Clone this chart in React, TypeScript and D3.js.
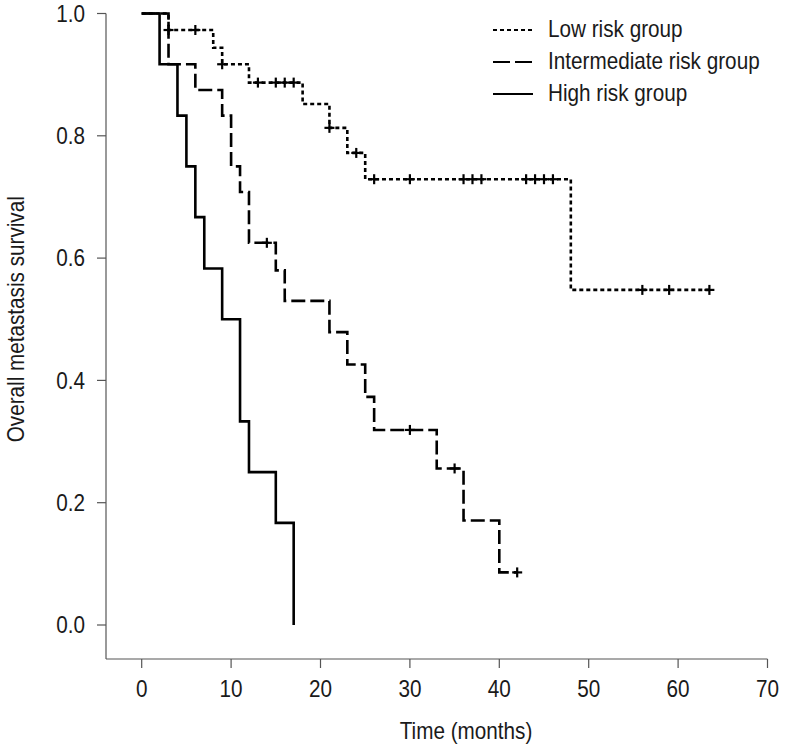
import React from "react";
import * as d3 from "d3";

// ---- Data ----
const xTicks = [0, 10, 20, 30, 40, 50, 60, 70];
const yTicks = [0, 0.2, 0.4, 0.6, 0.8, 1.0];

const lowEventTimes = [3, 8, 9, 12, 18, 21, 23, 25, 48];
const lowSurvival = [0.973, 0.944, 0.917, 0.887, 0.852, 0.813, 0.772, 0.729, 0.548];
const lowEnd = 63.5;
const lowCensored = [3, 6, 9, 13, 15, 16, 17, 21, 24, 26, 30, 36, 37, 38, 43, 44, 45, 46, 56, 59, 63.5];

const midEventTimes = [3, 6, 9, 10, 11, 12, 15, 16, 21, 23, 25, 26, 33, 36, 40];
const midSurvival = [0.917, 0.875, 0.833, 0.75, 0.708, 0.625, 0.58, 0.53, 0.479, 0.426, 0.373, 0.319, 0.256, 0.171, 0.086];
const midEnd = 42;
const midCensored = [14, 30, 35, 42];

const highEventTimes = [2, 4, 5, 6, 7, 9, 11, 12, 15, 17];
const highSurvival = [0.917, 0.833, 0.75, 0.667, 0.583, 0.5, 0.333, 0.25, 0.167, 0];
const highEnd = 17;
const highCensored: number[] = [];

const groupNames = ["Low risk group", "Intermediate risk group", "High risk group"];

const FONT = "'Liberation Sans', Arial, sans-serif";
const SX = 0.9;

function buildSteps(times: number[], surv: number[], end: number): [number, number][] {
  const pts: [number, number][] = [[0, 1]];
  times.forEach((t, i) => pts.push([t, surv[i]]));
  pts.push([end, surv[surv.length - 1]]);
  return pts;
}

function survAt(t: number, times: number[], surv: number[]): number {
  let s = 1;
  times.forEach((et, i) => {
    if (et <= t) s = surv[i];
  });
  return s;
}

function NText(props: {
  x: number;
  y: number;
  anchor?: "start" | "middle" | "end";
  rotate?: number;
  dy?: string;
  children: React.ReactNode;
}) {
  const { x, y, anchor = "start", rotate = 0, dy, children } = props;
  return (
    <text
      transform={`translate(${x},${y}) rotate(${rotate}) scale(${SX},1)`}
      textAnchor={anchor}
      dy={dy}
      fontSize={23}
      fill="#1a1a1a"
    >
      {children}
    </text>
  );
}

export default function App() {
  const W = 787;
  const H = 747;
  const x = d3.scaleLinear().domain([0, 70]).range([141.7, 767.5]);
  const y = d3.scaleLinear().domain([0, 1]).range([625, 13.5]);
  const axisX = 106;
  const axisY = 659;

  const line = d3
    .line<[number, number]>()
    .x((d) => x(d[0]))
    .y((d) => y(d[1]))
    .curve(d3.curveStepAfter);

  const groups = [
    { times: lowEventTimes, surv: lowSurvival, end: lowEnd, cens: lowCensored, dash: "4,3" },
    { times: midEventTimes, surv: midSurvival, end: midEnd, cens: midCensored, dash: "14,5" },
    { times: highEventTimes, surv: highSurvival, end: highEnd, cens: highCensored, dash: "none" },
  ];

  const legendDash = ["4,3", "17,5", "none"];
  const axisColor = "#555";

  return (
    <svg
      width={W}
      height={H}
      style={{ position: "absolute", left: 0, top: 0, background: "#fff" }}
      fontFamily={FONT}
    >
      {/* axes */}
      <line x1={axisX} x2={axisX} y1={y(1)} y2={axisY} stroke={axisColor} strokeWidth={1.2} />
      <line x1={axisX} x2={x(70)} y1={axisY} y2={axisY} stroke={axisColor} strokeWidth={1.2} />
      {yTicks.map((t) => (
        <g key={"y" + t}>
          <line x1={axisX - 9} x2={axisX} y1={y(t)} y2={y(t)} stroke={axisColor} strokeWidth={1.2} />
          <NText x={axisX - 21} y={y(t)} dy="0.36em" anchor="end">
            {t.toFixed(1)}
          </NText>
        </g>
      ))}
      {xTicks.map((t) => (
        <g key={"x" + t}>
          <line x1={x(t)} x2={x(t)} y1={axisY} y2={axisY + 9} stroke={axisColor} strokeWidth={1.2} />
          <NText x={x(t)} y={697} anchor="middle">
            {t}
          </NText>
        </g>
      ))}
      <NText x={466} y={739} anchor="middle">
        Time (months)
      </NText>
      <NText x={24} y={y(0.5)} anchor="middle" rotate={-90}>
        Overall metastasis survival
      </NText>

      {/* curves */}
      {groups.map((g, i) => (
        <g key={"g" + i}>
          <path
            d={line(buildSteps(g.times, g.surv, g.end)) || ""}
            fill="none"
            stroke="#000"
            strokeWidth={2.6}
            strokeDasharray={g.dash}
          />
          {g.cens.map((c, j) => {
            const cx = x(c);
            const cy = y(survAt(c, g.times, g.surv));
            return (
              <g key={"c" + j} stroke="#000" strokeWidth={2.2}>
                <line x1={cx - 5} x2={cx + 5} y1={cy} y2={cy} />
                <line x1={cx} x2={cx} y1={cy - 5} y2={cy + 5} />
              </g>
            );
          })}
        </g>
      ))}

      {/* legend */}
      {groupNames.map((name, i) => {
        const base = 37 + i * 32;
        return (
          <g key={"l" + i}>
            <line
              x1={493}
              x2={533}
              y1={base - 7}
              y2={base - 7}
              stroke="#000"
              strokeWidth={2.2}
              strokeDasharray={legendDash[i]}
            />
            <NText x={548} y={base}>
              {name}
            </NText>
          </g>
        );
      })}
    </svg>
  );
}
